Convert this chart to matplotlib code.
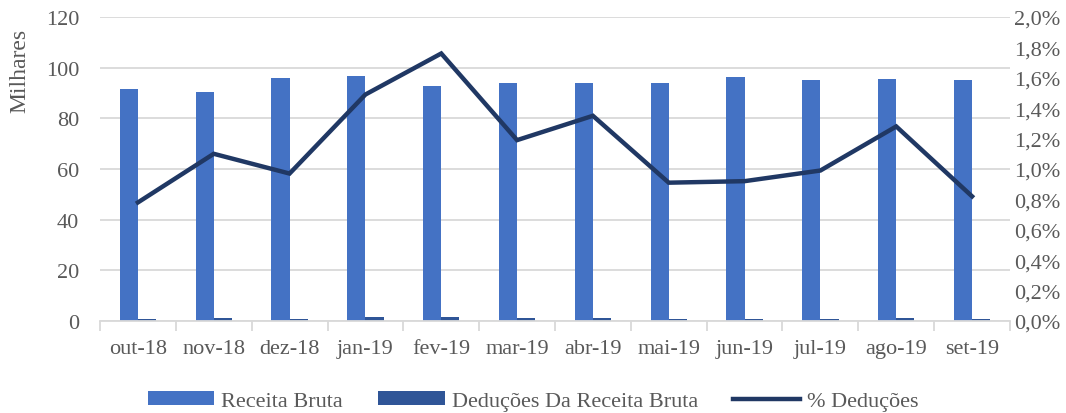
import matplotlib
matplotlib.use('Agg')
import matplotlib.pyplot as plt
import numpy as np
from matplotlib.patches import Patch
from matplotlib.lines import Line2D
from matplotlib.ticker import FuncFormatter

months = ['out-18', 'nov-18', 'dez-18', 'jan-19', 'fev-19', 'mar-19',
          'abr-19', 'mai-19', 'jun-19', 'jul-19', 'ago-19', 'set-19']
receita = [91.6, 90.3, 96.1, 96.6, 92.9, 93.8, 93.8, 94.1, 96.2, 95.1, 95.6, 95.3]
deducoes = [0.72, 0.99, 0.93, 1.44, 1.63, 1.12, 1.27, 0.86, 0.89, 0.94, 1.22, 0.78]
pct = [0.78, 1.10, 0.97, 1.49, 1.76, 1.19, 1.35, 0.91, 0.92, 0.99, 1.28, 0.82]

c_rec = '#4472C4'
c_ded = '#2F5597'
c_line = '#203864'
txt = '#595959'
grid = '#D9D9D9'
fs = 16

plt.rcParams['font.family'] = ['Liberation Serif', 'DejaVu Serif']

fig = plt.figure(figsize=(10.66, 4.14), dpi=100)
ax = fig.add_axes([100/1066, 1-322/414, 910/1066, 304/414])
ax2 = ax.twinx()

x = np.arange(len(months))
w = 0.24
ax.bar(x - w/2, receita, w, color=c_rec, zorder=2)
ax.bar(x + w/2, deducoes, w, color=c_ded, zorder=2)
ax2.plot(x, pct, color=c_line, lw=3.2, solid_joinstyle='miter', zorder=3)

ax.set_xlim(-0.5, len(months) - 0.5)
ax.set_ylim(0, 120)
ax.set_yticks(range(0, 121, 20))
ax2.set_ylim(0, 2.0)
ax2.set_yticks(np.arange(0, 2.01, 0.2))
ax2.yaxis.set_major_formatter(FuncFormatter(lambda v, p: f'{v:.1f}%'.replace('.', ',')))

ax.yaxis.grid(True, color=grid, lw=1.3, zorder=0)
ax.set_axisbelow(True)

for a in (ax, ax2):
    for s in ('top', 'left', 'right', 'bottom'):
        a.spines[s].set_visible(False)
ax.spines['bottom'].set_visible(True)
ax.spines['bottom'].set_color(grid)
ax.spines['bottom'].set_linewidth(1.3)

ax.set_xticks(x)
ax.set_xticklabels(months)
ax.set_xticks(np.arange(-0.5, len(months)), minor=True)
ax.tick_params(axis='x', which='major', length=0, pad=13, labelsize=fs, labelcolor=txt)
ax.tick_params(axis='x', which='minor', length=7, width=1.3, color=grid)
ax.tick_params(axis='y', length=0, pad=15, labelsize=fs, labelcolor=txt)
ax2.tick_params(axis='y', length=0, pad=3, labelsize=fs, labelcolor=txt)

fig.text(20/1066, 1-71/414, 'Milhares', rotation=90, ha='center', va='center',
         fontsize=fs + 1, color=txt)

handles = [Patch(facecolor=c_rec, label='Receita Bruta'),
           Patch(facecolor=c_ded, label='Deduções Da Receita Bruta'),
           Line2D([0], [0], color=c_line, lw=3.2, label='% Deduções')]
leg = fig.legend(handles=handles, loc='center', bbox_to_anchor=(0.5, 1-402/414),
                 ncol=3, frameon=False, fontsize=fs, handlelength=3.0,
                 handleheight=0.55, columnspacing=1.6, handletextpad=0.3)
for t in leg.get_texts():
    t.set_color(txt)

fig.savefig('out.png', dpi=100)
